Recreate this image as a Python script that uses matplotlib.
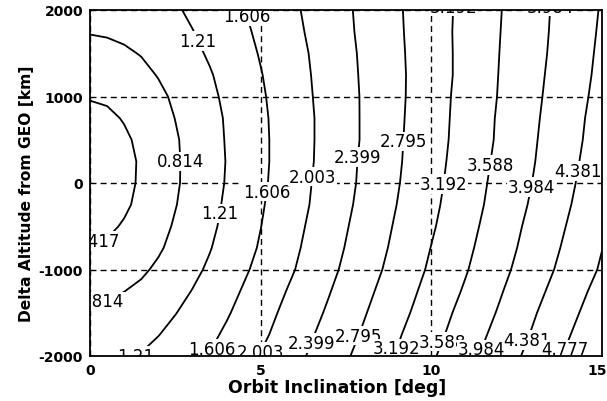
import matplotlib
matplotlib.use("Agg")
import matplotlib.pyplot as plt
import matplotlib.transforms as mtransforms
from matplotlib.patches import Rectangle

plt.rcParams["axes.unicode_minus"] = False

# contour levels as labelled in the chart
levels = [0.417, 0.814, 1.21, 1.606, 2.003, 2.399, 2.795, 3.192, 3.588, 3.984, 4.381, 4.777]

# grid: inclination [deg] x delta altitude [km]
inclination = [0, 0.5, 1, 1.5, 2, 2.5, 3, 3.5, 4, 5, 6, 7, 8, 9, 10, 11, 12, 13, 14, 15]
delta_alt = [-2000, -1750, -1500, -1250, -1000, -750, -500, -250, 0,
             250, 500, 750, 1000, 1250, 1500, 1750, 2000]
values = [
    [1.12, 1.13, 1.17, 1.23, 1.31, 1.40, 1.51, 1.62, 1.75, 2.02, 2.30, 2.60, 2.91, 3.22, 3.54, 3.86, 4.18, 4.50, 4.83, 5.16],
    [1.00, 1.01, 1.05, 1.11, 1.20, 1.30, 1.41, 1.53, 1.66, 1.93, 2.22, 2.53, 2.83, 3.15, 3.46, 3.78, 4.10, 4.42, 4.75, 5.07],
    [0.87, 0.89, 0.93, 1.00, 1.09, 1.20, 1.31, 1.44, 1.57, 1.86, 2.15, 2.45, 2.76, 3.07, 3.39, 3.71, 4.02, 4.35, 4.67, 4.99],
    [0.74, 0.76, 0.81, 0.88, 0.98, 1.10, 1.22, 1.35, 1.49, 1.78, 2.08, 2.38, 2.69, 3.00, 3.32, 3.63, 3.95, 4.27, 4.59, 4.91],
    [0.59, 0.61, 0.67, 0.76, 0.87, 0.99, 1.13, 1.26, 1.41, 1.70, 2.00, 2.31, 2.62, 2.93, 3.25, 3.56, 3.88, 4.19, 4.51, 4.82],
    [0.45, 0.47, 0.55, 0.65, 0.77, 0.91, 1.05, 1.19, 1.34, 1.64, 1.95, 2.26, 2.57, 2.88, 3.20, 3.51, 3.82, 4.14, 4.45, 4.77],
    [0.32, 0.35, 0.45, 0.57, 0.70, 0.85, 0.99, 1.14, 1.29, 1.60, 1.91, 2.22, 2.53, 2.84, 3.15, 3.46, 3.78, 4.09, 4.40, 4.71],
    [0.19, 0.25, 0.36, 0.50, 0.65, 0.80, 0.95, 1.10, 1.26, 1.57, 1.87, 2.18, 2.49, 2.80, 3.11, 3.42, 3.73, 4.04, 4.35, 4.66],
    [0.07, 0.17, 0.31, 0.47, 0.62, 0.77, 0.93, 1.08, 1.23, 1.54, 1.85, 2.16, 2.46, 2.77, 3.08, 3.39, 3.70, 4.00, 4.31, 4.62],
    [0.06, 0.16, 0.31, 0.46, 0.61, 0.77, 0.92, 1.07, 1.22, 1.53, 1.83, 2.14, 2.45, 2.75, 3.06, 3.36, 3.67, 3.97, 4.28, 4.58],
    [0.19, 0.24, 0.36, 0.49, 0.64, 0.78, 0.93, 1.08, 1.23, 1.53, 1.83, 2.13, 2.43, 2.74, 3.04, 3.34, 3.64, 3.95, 4.25, 4.55],
    [0.32, 0.35, 0.44, 0.55, 0.68, 0.82, 0.96, 1.10, 1.24, 1.54, 1.83, 2.13, 2.43, 2.73, 3.03, 3.33, 3.63, 3.93, 4.23, 4.53],
    [0.44, 0.47, 0.54, 0.63, 0.74, 0.87, 1.00, 1.14, 1.27, 1.56, 1.85, 2.14, 2.43, 2.72, 3.02, 3.32, 3.61, 3.91, 4.20, 4.50],
    [0.58, 0.60, 0.65, 0.73, 0.83, 0.94, 1.06, 1.18, 1.32, 1.59, 1.87, 2.15, 2.44, 2.72, 3.01, 3.30, 3.60, 3.89, 4.18, 4.47],
    [0.71, 0.72, 0.77, 0.83, 0.92, 1.02, 1.13, 1.25, 1.37, 1.63, 1.89, 2.17, 2.45, 2.73, 3.01, 3.30, 3.59, 3.87, 4.16, 4.45],
    [0.83, 0.85, 0.88, 0.94, 1.02, 1.10, 1.20, 1.31, 1.43, 1.67, 1.93, 2.19, 2.47, 2.74, 3.02, 3.30, 3.58, 3.86, 4.14, 4.43],
    [0.93, 0.94, 0.97, 1.02, 1.09, 1.17, 1.27, 1.37, 1.48, 1.71, 1.96, 2.21, 2.48, 2.75, 3.02, 3.29, 3.57, 3.85, 4.13, 4.41],
]

# where the contour labels sit (snapped to the nearest line)
label_spots = [(4.85, 1955), (3.3, 1667), (2.78, 253), (4.9, -84), (6.8, 63), (8.06, 291),
               (9.23, 481), (10.35, -12), (11.78, 203), (12.95, -48), (14.3, 139), (3.96, -361),
               (0.2, -700), (0.3, -1373), (1.2, -1995), (3.7, -1945), (5.0, -1950), (6.45, -1845),
               (7.85, -1760), (9.1, -1925), (10.05, -1795), (11.49, -1925), (12.69, -1795),
               (13.95, -1930), (10.6, 1995), (13.5, 1995)]

fig = plt.figure(figsize=(6.07, 4.02), dpi=100)
ax = fig.add_axes([90/607, 1-357/402, 512/607, 346/402])
cs = ax.contour(inclination, delta_alt, values, levels=levels, colors="k", linewidths=1.3)
ax.set_xlim(0, 15)
ax.set_ylim(-2000, 2000)
ax.set_xticks([0, 5, 10, 15])
ax.set_yticks([-2000, -1000, 0, 1000, 2000])
ax.grid(True, color="k", linestyle=(0, (4.3, 3)), linewidth=1)
ax.tick_params(length=0, labelsize=10, pad=5)
for t in ax.get_xticklabels() + ax.get_yticklabels():
    t.set_fontweight("bold")
last = ax.get_xticklabels()[-1]
last.set_transform(last.get_transform() + mtransforms.ScaledTranslation(-5/100, 0, fig.dpi_scale_trans))
for s in ax.spines.values():
    s.set_linewidth(1.3)

texts = ax.clabel(cs, inline=False, fontsize=12, manual=label_spots,
                  fmt=lambda v: f"{v:.3f}".rstrip("0"))
for t in texts:
    t.set_rotation(0)
    t.set_bbox(dict(facecolor="white", edgecolor="none", pad=0.5))
    t.set_zorder(2.4)
    x, y = t.get_position()
    if y > 1980:
        t.set_y(2040)

# labels at the frame are cut off there, as in the chart
fig.add_artist(Rectangle((91/607, 1-10/402), 510/607, 10/402, transform=fig.transFigure,
                         facecolor="white", edgecolor="none", zorder=10))
fig.add_artist(Rectangle((91/607, 1-363/402), 510/607, 5/402, transform=fig.transFigure,
                         facecolor="white", edgecolor="none", zorder=10))

ax.set_xlabel("Orbit Inclination [deg]", fontsize=12.5, fontweight="bold")
ax.set_ylabel("Delta Altitude from GEO [km]", fontsize=11.2, fontweight="bold")
ax.xaxis.set_label_coords(0.482, -0.064)
ax.yaxis.set_label_coords(-0.109, 0.471)

fig.savefig("out.png")
